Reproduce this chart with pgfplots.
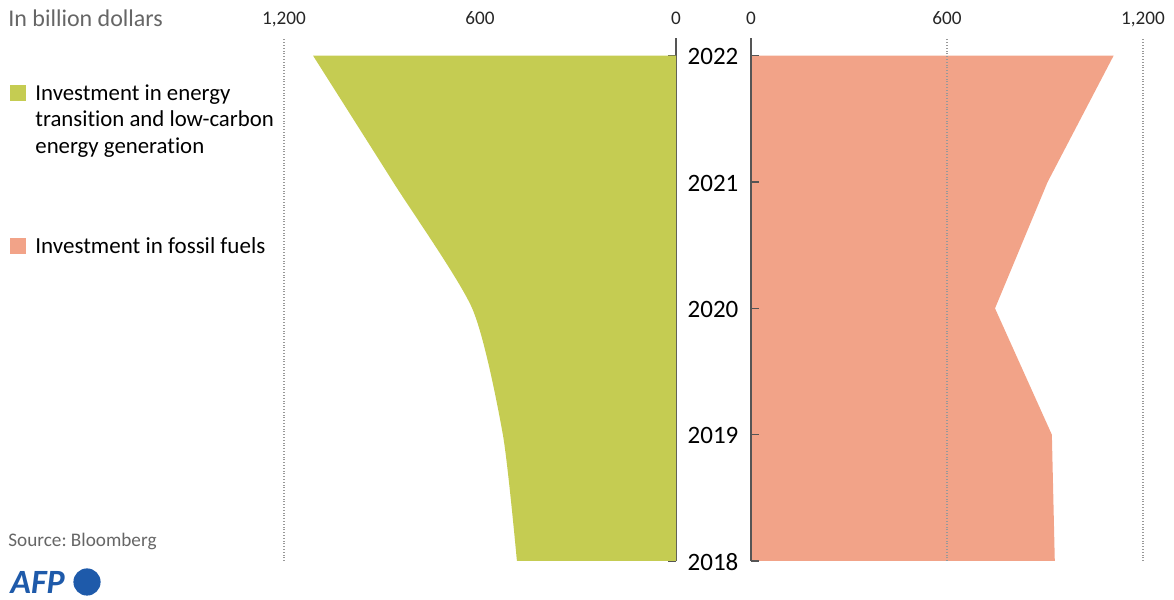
\documentclass[border=0pt]{standalone}
\usepackage{pgfplots}
\pgfplotsset{compat=1.18}
\usepackage{pgfplotstable}
\usepackage{fontspec}
\setmainfont{Carlito}[Ligatures=NoCommon]
\definecolor{transc}{RGB}{197,204,82}
\definecolor{fossilc}{RGB}{242,163,136}
\definecolor{axisgray}{RGB}{85,85,85}
\definecolor{logoblue}{RGB}{30,90,170}

\pgfplotstableread{
year trans fossil
2018 487 930
2019 530 921
2020 624 747
2021 866 908
2022 1111 1110
}\data

\pgfplotsset{
  panel/.style={
    scale only axis, width=196pt, height=261.5pt, anchor=south west,
    ymin=2018, ymax=2022.14,
    axis x line*=top,
    x axis line style={draw=none},
    y axis line style={draw=axisgray, line width=0.6pt},
    xtick style={draw=none},
    ytick={2018,2019,2020,2021,2022},
    ytick style={draw=axisgray, line width=0.6pt},
    major tick length=4pt, tick align=inside,
    /pgf/number format/assume math mode=true,
    xticklabel style={font=\fontsize{9.6}{11}\selectfont, text=black!85, anchor=base, yshift=6.5pt},
    extra x tick labels={},
    extra x tick style={grid=major, major tick length=0pt},
    major grid style={densely dotted, gray!80, line width=0.6pt},
  }
}

\begin{document}
\frenchspacing
\begin{tikzpicture}[x=1pt,y=1pt]
\path[use as bounding box] (0,0) rectangle (587,300);

% left panel
\begin{axis}[panel, at={(142pt,19.5pt)},
  xmin=-1200, xmax=0,
  axis y line*=right,
  xtick={-1200,-600,0}, xticklabels={{1,200},600,0},
  yticklabels={},
  extra x ticks={-1200},
]
\addplot[fill=transc, draw=none, smooth, tension=0.4] table[x expr=-\thisrow{trans}, y=year] {\data}
  -- (axis cs:0,2022) -- (axis cs:0,2018) -- cycle;
\end{axis}

% right panel
\begin{axis}[panel, at={(375.5pt,19.5pt)},
  xmin=0, xmax=1200,
  axis y line*=left, axis on top,
  xtick={0,600,1200}, xticklabels={0,600,{1,200}},
  yticklabels={2018,2019,2020,2021,2022},
  yticklabel style={font=\fontsize{12.5}{15}\selectfont, text=black, anchor=center, xshift=-19pt, yshift=-0.5pt},
  extra x ticks={600,1200},
]
\addplot[fill=fossilc, draw=none] table[x=fossil, y=year] {\data}
  -- (axis cs:0,2022) -- (axis cs:0,2018) -- cycle;
\end{axis}

% texts
\node[anchor=west, text=black!60, font=\fontsize{12}{14}\selectfont, inner sep=0pt] at (4,291) {In billion dollars};
\node[fill=transc, minimum size=8pt, inner sep=0pt] at (9,253.5) {};
\node[anchor=north west, align=left, inner sep=0pt, font=\fontsize{11.4}{13.3}\selectfont] at (17.5,258) {Investment in energy\\transition and low-carbon\\energy generation};
\node[fill=fossilc, minimum size=8pt, inner sep=0pt] at (9,177) {};
\node[anchor=west, inner sep=0pt, font=\fontsize{11.5}{13}\selectfont] at (17.5,177) {Investment in fossil fuels};
\node[anchor=west, text=black!60, font=\fontsize{9.6}{11}\selectfont, inner sep=0pt] at (4,29.5) {Source: Bloomberg};
\node[anchor=west, text=logoblue, font=\fontsize{17}{19}\selectfont\bfseries\itshape, inner sep=0pt] at (5,9) {AFP};
\fill[logoblue] (43.5,9) circle (6.8);
\end{tikzpicture}
\end{document}
